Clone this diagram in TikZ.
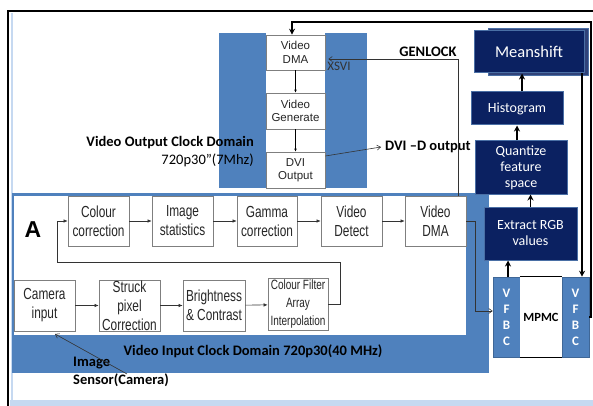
\documentclass[tikz,border=0pt]{standalone}
\usepackage{fontspec}
\setmainfont{Carlito}
\newfontfamily\nar[FakeStretch=0.74]{Liberation Sans}
\newfontfamily\ari{Liberation Sans}
\usetikzlibrary{arrows.meta}
\definecolor{dom}{HTML}{4F81BD}
\definecolor{navy}{HTML}{0B2161}
\definecolor{navyedge}{HTML}{4A6FA5}
\definecolor{lblue}{HTML}{C6D9F1}
\definecolor{boxline}{HTML}{7F7F7F}
\begin{document}
\begin{tikzpicture}[x=1pt,y=-1pt,
 pbox/.style={draw=boxline, fill=white, line width=0.7pt, inner sep=0pt, align=center, text=black!85, font=\nar\fontsize{16}{19}\selectfont, minimum width=61pt, minimum height=50pt},
 obox/.style={draw=boxline, fill=white, line width=0.6pt, inner sep=0pt, align=center, text=black!85, font=\ari\fontsize{11.5}{13.5}\selectfont, minimum width=59pt},
 nbox/.style={draw=navyedge, fill=navy, line width=1pt, inner sep=0pt, align=center, text=white, font=\fontsize{14}{16}\selectfont},
 vfbc/.style={draw=dom!80!black, fill=dom, line width=0.6pt, inner sep=0pt, align=center, text=white, font=\bfseries\fontsize{13}{16}\selectfont, minimum width=27pt, minimum height=80pt},
 parr/.style={-{Latex[length=4pt,width=3.5pt]}, line width=0.6pt, draw=black!80},
 oarr/.style={-{Straight Barb[length=3.5pt,width=5pt]}, line width=0.6pt, draw=black!80},
 barr/.style={-{Stealth[length=6pt,width=6pt]}, line width=1.3pt},
 lbl/.style={font=\bfseries\fontsize{14.5}{16}\selectfont, inner sep=0pt}
]
\useasboundingbox (0,0) rectangle (593,406);
\fill[white] (0,0) rectangle (593,406);
% frame
\fill[lblue] (10,400) rectangle (593,406);
\draw[lblue, line width=2pt] (12,13) -- (12,400);
\draw[line width=1.5pt] (8,406) -- (8,11) -- (593,11);

% ---------- input clock domain ----------
\fill[dom] (12,193) rectangle (489,373);
\fill[white] (14,196) rectangle (466,335);
\node[font=\ari\bfseries\fontsize{23}{23}\selectfont, inner sep=0pt] (A) at (33,230) {A};

\node[pbox] (cc) at (98.5,221) {Colour\\correction};
\node[pbox] (is) at (182.5,221) {Image\\statistics};
\node[pbox, minimum width=60pt] (gc) at (267,221) {Gamma\\correction};
\node[pbox] (vd) at (351.5,221) {Video\\Detect};
\node[pbox] (vdmai) at (435.5,221) {Video\\DMA};

\node[pbox, minimum height=51pt] (ci) at (44.5,305.5) {Camera\\input};
\node[pbox, minimum height=51pt] (sp) at (129.5,305.5) {Struck\\pixel\\Correction};
\node[pbox, minimum height=51pt, minimum width=62pt] (bc) at (214,305.5) {Brightness\\\& Contrast};
\node[pbox, minimum height=52pt, minimum width=60pt, font=\nar\fontsize{13.5}{18}\selectfont] (cfa) at (298,304.5) {Colour Filter\\Array\\Interpolation};

\draw[parr] (cc) -- (is);
\draw[parr] (is) -- (gc);
\draw[parr] (gc) -- (vd);
\draw[parr] (vd) -- (vdmai);
\draw[parr] (ci) -- (sp);
\draw[parr] (sp) -- (bc);
\draw[parr] (bc) -- (cfa);
\coordinate (lp) at (340,262);
\coordinate (lq) at (57,262);
\draw[parr] (cfa.east) -- (cfa.east -| lp) -- (lp) -- (lq) -- (lq |- cc.west) -- (cc.west);

\node[lbl] (vicd) at (253,351) {Video Input Clock Domain 720p30(40 MHz)};
\node[lbl, anchor=west] (img1) at (73,363) {Image};
\node[lbl, anchor=west] (img2) at (73,380) {Sensor(Camera)};
\coordinate (sens) at (127,374);
\coordinate (camtip) at (55,334);
\draw[oarr] (sens) -- (camtip);

% ---------- output clock domain ----------
\fill[dom] (219,33) rectangle (367,188);
\fill[white] (266,33) rectangle (325,188);
\node[obox, minimum height=35pt] (vdmao) at (295.5,52.5) {Video\\DMA};
\node[obox, minimum height=36pt] (vgen) at (295.5,111) {Video\\Generate};
\node[obox, minimum height=36pt] (dvi) at (295.5,170) {DVI\\Output};
\draw[-{Latex[length=3pt,width=2.5pt]}, line width=0.5pt] (vdmao) -- (vgen);
\draw[-{Latex[length=3pt,width=2.5pt]}, line width=0.5pt] (vgen) -- (dvi);

\node[lbl, anchor=east] (vocd) at (254,143) {Video Output Clock Domain};
\node[font=\fontsize{14.5}{16}\selectfont, anchor=east, inner sep=0pt] (vofreq) at (254,160) {720p30”(7Mhz)};

\node[lbl, anchor=west] (dvid) at (385,147) {DVI –D output};
\draw[oarr] ([yshift=14pt]dvi.east) -- ([xshift=-4pt]dvid.west);

\node[lbl] (gen) at (428,52) {GENLOCK};
\node[font=\fontsize{13}{14}\selectfont, inner sep=0pt, text=black!80] (xsvi) at (339,66) {XSVI};
\coordinate (g1) at (458,59);
\draw[oarr] (vdmai.north -| g1) -- (g1) -- ([xshift=3pt]vdmao.east |- g1);

% ---------- processing chain ----------
\fill[navy!85, draw=navyedge, line width=1pt] (488,29) rectangle (588,76);
\node[nbox, minimum width=110pt, minimum height=42pt, font=\fontsize{16.5}{18}\selectfont] (mean) at (529,52) {Meanshift};
\node[nbox, minimum width=92pt, minimum height=33pt] (hist) at (517,108.5) {Histogram};
\node[nbox, minimum width=92pt, minimum height=53pt] (quant) at (521,167.5) {Quantize\\feature\\space};
\node[nbox, minimum width=93pt, minimum height=53pt] (extr) at (530.5,233.5) {Extract RGB\\values};

\node[vfbc] (vfbcl) at (506.5,317) {V\\F\\B\\C};
\node[fill=white, minimum width=42pt, minimum height=80pt, inner sep=0pt, font=\bfseries\fontsize{12.5}{14}\selectfont] (mpmc) at (541,317) {MPMC};
\draw[line width=1pt] (mpmc.north west) -- (mpmc.north east) (mpmc.south west) -- (mpmc.south east);
\node[vfbc] (vfbcr) at (575.5,317) {V\\F\\B\\C};

\draw[barr] ([xshift=5pt]hist.north) -- ([xshift=5pt]hist.north |- mean.south);
\draw[barr] ([xshift=-4pt]quant.north) -- ([xshift=-4pt]quant.north |- hist.south);
\draw[barr] (extr.north) -- (extr.north |- quant.south);
\draw[barr] ([xshift=1.5pt]vfbcl.north) -- ([xshift=1.5pt]vfbcl.north |- extr.south);

\coordinate (dm) at (475,0);
\coordinate (vin) at ([yshift=6pt]vfbcl.west);
\draw[oarr] (vdmai.east) -- (vdmai.east -| dm) -- (dm |- vin) -- (vin);

\draw[barr] ([xshift=53pt]mean.south) -- ([xshift=53pt]mean.south |- vfbcr.north);
\coordinate (fbr) at (591,22);
\draw[barr] (vfbcr.east) -- (vfbcr.east -| fbr) -- (fbr) -- ([xshift=-3.5pt]vdmao.north |- fbr) -- ([xshift=-3.5pt]vdmao.north);
\end{tikzpicture}
\end{document}
